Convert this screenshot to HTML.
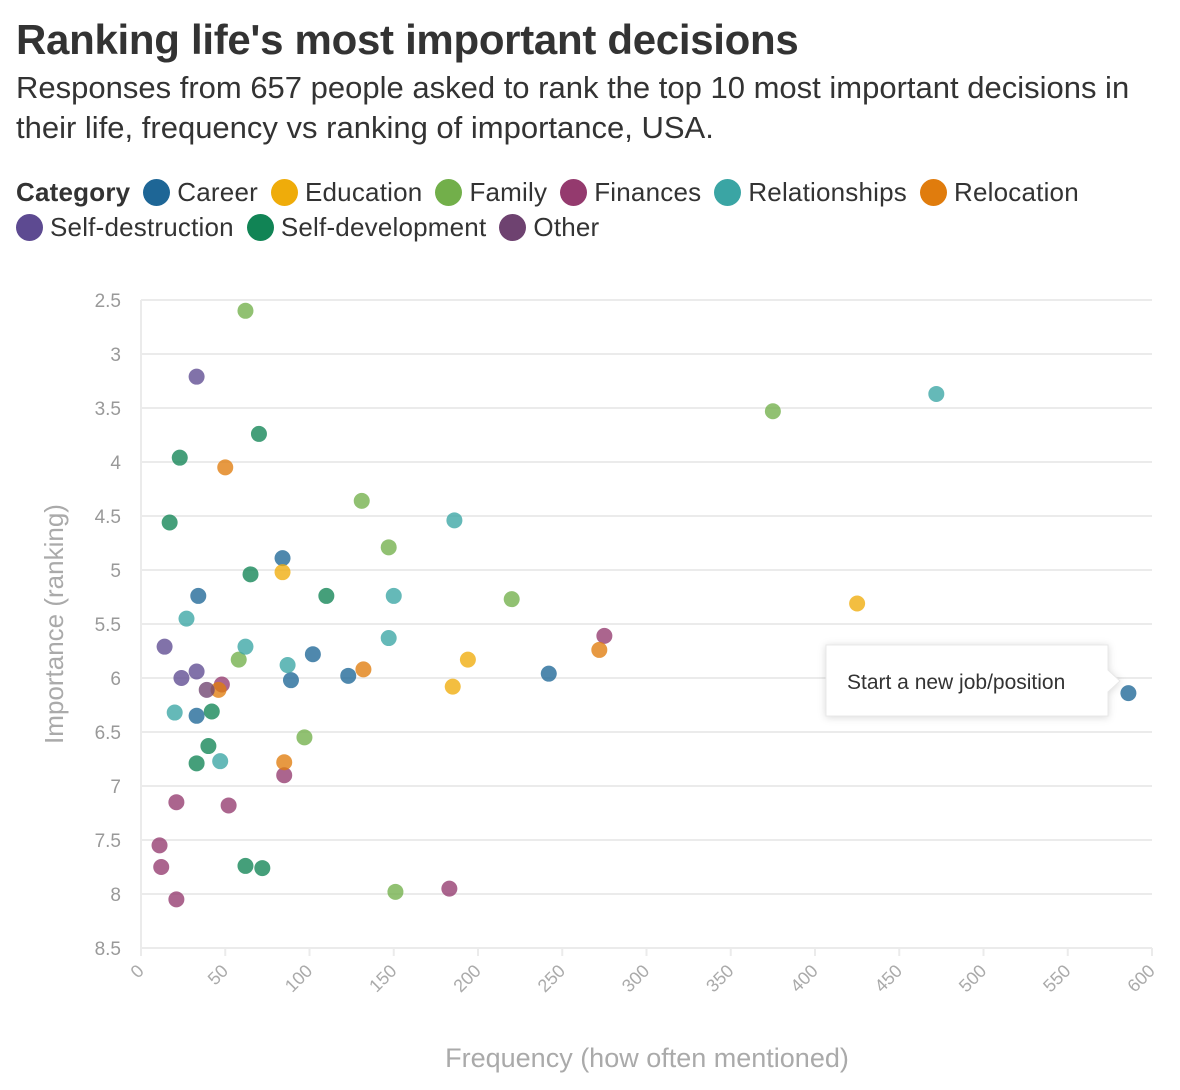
<!DOCTYPE html>
<html><head><meta charset="utf-8">
<style>
body{margin:0;background:#fff;width:1180px;height:1090px;overflow:hidden;font-family:"Liberation Sans",sans-serif;}
#title{position:absolute;left:16px;top:16px;font-size:42px;font-weight:bold;color:#333;letter-spacing:-0.3px;margin:0;line-height:48px}
#sub{position:absolute;left:16px;top:68px;font-size:31px;color:#333;line-height:40px;width:1170px;letter-spacing:0px}
#legend{position:absolute;left:16px;top:175px;width:1170px;font-size:26px;color:#333;line-height:35px;letter-spacing:0.2px}
.li{display:inline-block;margin-right:13px;white-space:nowrap}
.sw{display:inline-block;width:27px;height:27px;border-radius:50%;vertical-align:-5px;margin-right:7px}
svg{position:absolute;left:0;top:0}
</style></head><body>
<h1 id="title">Ranking life's most important decisions</h1>
<div id="sub">Responses from 657 people asked to rank the top 10 most important decisions in<br>their life, frequency vs ranking of importance, USA.</div>
<div id="legend"></div>
<svg id="chart" width="1180" height="1090"></svg>
<script>
const categories=["Career","Education","Family","Finances","Relationships","Relocation","Self-destruction","Self-development","Other"];
const colors=["#1e6696","#efac0a","#72af4a","#943a6e","#3aa5a4","#e07c0d","#5d4a91","#118455","#6e4270"];
const xTicks=[0,50,100,150,200,250,300,350,400,450,500,550,600];
const yTicks=[2.5,3,3.5,4,4.5,5,5.5,6,6.5,7,7.5,8,8.5];
const freq={
Career:[84,34,102,89,123,242,33,586],
Education:[84,194,185,425],
Family:[62,375,131,147,220,58,97,151],
Finances:[275,48,85,21,52,11,12,21,183],
Relationships:[472,186,150,27,62,147,87,20,47],
Relocation:[50,132,272,46,85],
"Self-destruction":[33,14,33,24],
"Self-development":[70,23,17,65,110,42,40,33,62,72],
Other:[39]};
const rank={
Career:[4.89,5.24,5.78,6.02,5.98,5.96,6.35,6.14],
Education:[5.02,5.83,6.08,5.31],
Family:[2.6,3.53,4.36,4.79,5.27,5.83,6.55,7.98],
Finances:[5.61,6.06,6.9,7.15,7.18,7.55,7.75,8.05,7.95],
Relationships:[3.37,4.54,5.24,5.45,5.71,5.63,5.88,6.32,6.77],
Relocation:[4.05,5.92,5.74,6.11,6.78],
"Self-destruction":[3.21,5.71,5.94,6.0],
"Self-development":[3.74,3.96,4.56,5.04,5.24,6.31,6.63,6.79,7.74,7.76],
Other:[6.11]};
const X0=141,X1=1152,Y0=300,Y1=948;
const xs=v=>X0+(v-0)/600*(X1-X0);
const ys=v=>Y0+(v-2.5)/6*(Y1-Y0);
const NS="http://www.w3.org/2000/svg";
const svg=document.getElementById('chart');
function mk(t,a,p){const e=document.createElementNS(NS,t);for(const k in a)e.setAttribute(k,a[k]);(p||svg).appendChild(e);return e;}
const lg=document.getElementById('legend');
const lt=document.createElement('span');lt.className='li';lt.style.fontWeight='bold';lt.textContent='Category';


lg.appendChild(lt);
categories.forEach((c,i)=>{const s=document.createElement('span');s.className='li';


s.innerHTML='<span class="sw" style="background:'+colors[i]+'"></span>'+c;
lg.appendChild(s);
if(c==='Relocation')lg.appendChild(document.createElement('br'));});
yTicks.forEach(t=>{const l=mk('line',{x1:X0,x2:X1,y1:ys(t),y2:ys(t),stroke:'#ebebeb','stroke-width':2});


const tx=mk('text',{x:121,y:ys(t)+7,'text-anchor':'end','font-size':19,fill:'#999'});tx.textContent=t;

});
const ax=mk('line',{x1:X0,x2:X0,y1:Y0,y2:Y1,stroke:'#ebebeb','stroke-width':2});


xTicks.forEach(t=>{const x=xs(t);const tk=mk('line',{x1:x,x2:x,y1:Y1,y2:Y1+8,stroke:'#ebebeb','stroke-width':2});


const tx=mk('text',{x:x+4,y:Y1+24,'text-anchor':'end','font-size':18,fill:'#aaa',transform:'rotate(-45 '+(x+4)+' '+(Y1+24)+')'});tx.textContent=t;

});
const yt=mk('text',{x:63,y:624,'text-anchor':'middle','font-size':26,fill:'#aaa',transform:'rotate(-90 63 624)'});yt.textContent='Importance (ranking)';


const xt=mk('text',{x:647,y:1067,'text-anchor':'middle','font-size':27,fill:'#aaa'});xt.textContent='Frequency (how often mentioned)';


categories.forEach((c,i)=>{freq[c].forEach((f,j)=>{const p=mk('circle',{cx:xs(f),cy:ys(rank[c][j]),r:8,fill:colors[i],'fill-opacity':0.78});

});});
const tg=mk('g',{});


mk('path',{d:'M826 645 H1108 V670 L1120 681 L1108 692 V716 H826 Z',fill:'#fff',stroke:'#e8e8e8','stroke-width':1,style:'filter:drop-shadow(0 1px 4px rgba(0,0,0,0.15))'},tg);
const tt=mk('text',{x:847,y:689,'font-size':21,fill:'#333'},tg);tt.textContent='Start a new job/position';
</script>
</body></html>
